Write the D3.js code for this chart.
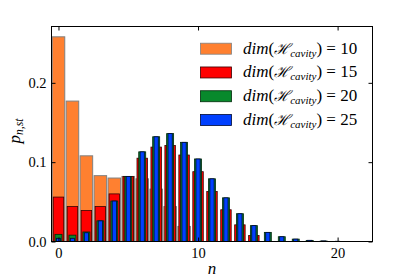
<!DOCTYPE html>
<html>
<head>
<meta charset="utf-8">
<script src="https://cdn.jsdelivr.net/npm/d3@7"></script>
<style>
  body { margin: 0; background: #fff; }
  svg text { font-family: "Liberation Serif", serif; }
</style>
</head>
<body>
<svg id="chart" width="415" height="277"></svg>
<script>
// steady state photon distribution for each cavity truncation
const dims = [10, 15, 20, 25]
const p10 = [0.258, 0.177, 0.108, 0.083, 0.080, 0.082, 0.079, 0.066, 0.044, 0.019]
const p15 = [0.056, 0.044, 0.039, 0.044, 0.060, 0.082, 0.105, 0.119, 0.121, 0.109,
             0.088, 0.063, 0.040, 0.021, 0.0075]
const p20 = [0.009, 0.008, 0.012, 0.026, 0.051, 0.082, 0.113, 0.132, 0.136, 0.125,
             0.104, 0.079, 0.055, 0.035, 0.020, 0.0115, 0.006, 0.003, 0.0014, 0.0006]
const p25 = [0.004, 0.004, 0.011, 0.026, 0.051, 0.082, 0.113, 0.132, 0.136, 0.125,
             0.104, 0.079, 0.055, 0.035, 0.020, 0.0115, 0.006, 0.003, 0.0015, 0.0007,
             0.0003, 0.00012, 0.00005, 0.00002, 0.00001]
const xTicks = [0, 10, 20]
const yTicks = [0, 0.1, 0.2]

const series = [p10, p15, p20, p25]
const fills = ["#ff8030", "#ff0000", "#08892c", "#0040ff"]
const edges = ["#808080", "#3a0000", "#002a0a", "#000a33"]
const widths = [0.9, 0.75, 0.5, 0.3]
const serif = "'Liberation Serif', serif"

const svg = d3.select("#chart")
const x = d3.scaleLinear().domain([-0.5, 22.5]).range([51.5, 372.5])
const y = d3.scaleLinear().domain([0, 0.271]).range([241.5, 26.5])

svg.append("clipPath").attr("id", "plotclip")
    .append("rect")
    .attr("x", x.range()[0]).attr("y", y.range()[1])
    .attr("width", x.range()[1] - x.range()[0])
    .attr("height", y.range()[0] - y.range()[1])

// bars, widest first so the narrower ones sit on top
const barsG = svg.append("g").attr("clip-path", "url(#plotclip)")
series.forEach((vals, i) => {
    const w = widths[i]
    barsG.append("g")
        .selectAll("rect")
        .data(vals)
        .enter()
        .append("rect")
        .attr("x", (d, n) => x(n - w / 2))
        .attr("width", x(w) - x(0))
        .attr("y", d => y(d))
        .attr("height", d => y(0) - y(d))
        .style("fill", fills[i])
        .style("stroke", edges[i])
        .style("stroke-width", i == 0 ? 1 : 0.8)
})

// frame
svg.append("rect")
    .attr("x", x.range()[0]).attr("y", y.range()[1])
    .attr("width", x.range()[1] - x.range()[0])
    .attr("height", y.range()[0] - y.range()[1])
    .style("fill", "none").style("stroke", "#000").style("stroke-width", 1)

const tickFont = g => {
    g.select(".domain").remove()
    g.attr("font-family", null)
    g.selectAll("text").style("font-family", serif).style("font-size", "14.5px").attr("fill", "#000")
    g.selectAll("line").attr("stroke", "#000")
}

svg.append("g").attr("transform", `translate(0,${y(0)})`)
    .call(d3.axisBottom(x).tickValues(xTicks).tickSizeInner(-4).tickSizeOuter(0).tickPadding(6).tickFormat(d3.format("d")))
    .call(tickFont)
svg.append("g").attr("transform", `translate(0,${y.range()[1]})`)
    .call(d3.axisTop(x).tickValues(xTicks).tickSizeInner(-4).tickSizeOuter(0).tickFormat(""))
    .call(tickFont)
svg.append("g").attr("transform", `translate(${x.range()[0]},0)`)
    .call(d3.axisLeft(y).tickValues(yTicks).tickSizeInner(-4).tickSizeOuter(0).tickPadding(5).tickFormat(d3.format(".1f")))
    .call(tickFont)
svg.append("g").attr("transform", `translate(${x.range()[1]},0)`)
    .call(d3.axisRight(y).tickValues(yTicks).tickSizeInner(-4).tickSizeOuter(0).tickFormat(""))
    .call(tickFont)

// axis labels
svg.append("text")
    .attr("x", 212).attr("y", 274)
    .attr("text-anchor", "middle")
    .style("font-family", serif)
    .style("font-size", "17px").style("font-style", "italic")
    .text("n")

const ylab = svg.append("text")
    .attr("transform", "translate(20,131) rotate(-90)")
    .attr("text-anchor", "middle")
    .style("font-family", serif)
    .style("font-size", "17px").style("font-style", "italic")
ylab.append("tspan").text("p")
ylab.append("tspan").attr("dy", 3).style("font-size", "11.5px").text("n,st")

// legend
const legend = svg.append("g")
const rowY = d3.scaleLinear().domain([0, 3]).range([48.7, 120])
dims.forEach((dm, i) => {
    const cy = rowY(i)
    legend.append("rect")
        .attr("x", 200.5).attr("y", cy - 5.5)
        .attr("width", 31).attr("height", 11)
        .style("fill", fills[i]).style("stroke", edges[i]).style("stroke-width", 0.8)
    const t = legend.append("text")
        .attr("x", 243).attr("y", cy + 5)
        .style("font-family", serif)
        .style("font-size", "17px")
    t.append("tspan").style("font-style", "italic").text("dim")
    t.append("tspan").text("(")
    t.append("tspan").style("font-family", "'DejaVu Serif', serif").style("font-style", "italic").style("font-size", "15px").text("\u210B")
    t.append("tspan").attr("dy", 3).style("font-size", "11px").style("font-style", "italic").text("cavity")
    t.append("tspan").attr("dy", -3).text(") = " + dm)
})
</script>
</body>
</html>
